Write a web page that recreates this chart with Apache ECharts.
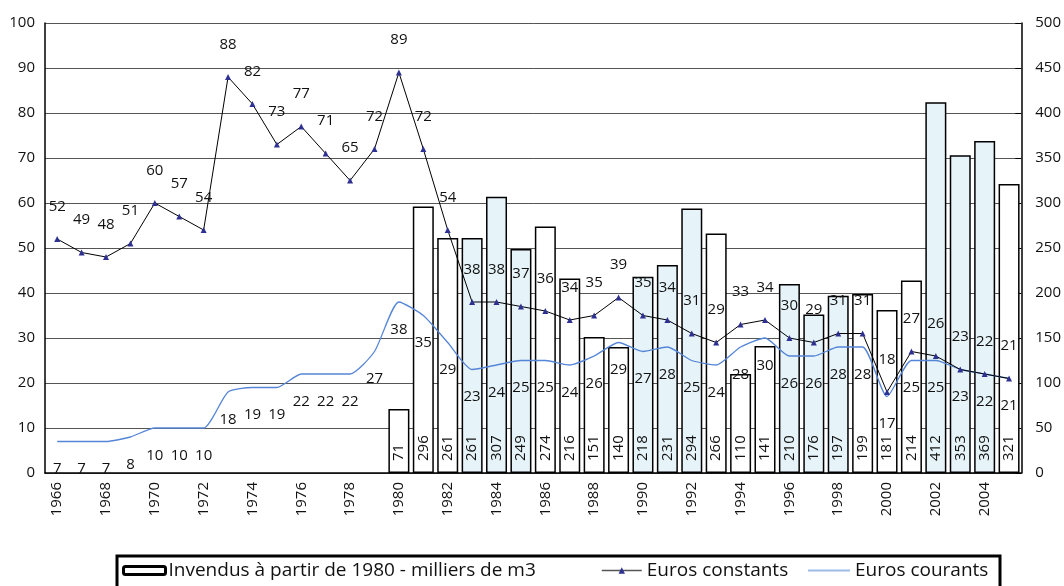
<!DOCTYPE html>
<html>
<head>
<meta charset="utf-8">
<script src="https://cdn.jsdelivr.net/npm/echarts@6/dist/echarts.min.js"></script>
<style>
  html, body { margin: 0; padding: 0; background: #fff; }
  #chart { width: 1064px; height: 586px; }
</style>
</head>
<body>
<div id="chart"></div>
<script>
// annees
var years = ['1966','1967','1968','1969','1970','1971','1972','1973','1974','1975',
  '1976','1977','1978','1979','1980','1981','1982','1983','1984','1985',
  '1986','1987','1988','1989','1990','1991','1992','1993','1994','1995',
  '1996','1997','1998','1999','2000','2001','2002','2003','2004','2005']

// invendus (milliers de m3), axe de droite
var invendus = [null,null,null,null,null,null,null,null,null,null,
  null,null,null,null,71,296,261,261,307,249,
  274,216,151,140,218,231,294,266,110,141,
  210,176,197,199,181,214,412,353,369,321]

// annees dont la barre est bleutee
var shaded = ['1983','1984','1985','1990','1991','1992','1996','1997','1998','2002','2003','2004']

var eurosConstants = [52,49,48,51,60,57,54,88,82,73,
  77,71,65,72,89,72,54,38,38,37,
  36,34,35,39,35,34,31,29,33,34,
  30,29,31,31,18,27,26,23,22,21]

var eurosCourants = [7,7,7,8,10,10,10,18,19,19,
  22,22,22,27,38,35,29,23,24,25,
  25,24,26,29,27,28,25,24,28,30,
  26,26,28,28,17,25,25,23,22,21]

var leftTicks = [0, 100, 10]
var rightTicks = [0, 500, 50]

var FONT = '"Open Sans", "Noto Sans", sans-serif'
var nomBarres = 'Invendus à partir de 1980 - milliers de m3'

var chart = echarts.init(document.getElementById('chart'))

var barData = invendus.map(function (v, i) {
  return {
    value: v,
    itemStyle: { color: shaded.indexOf(years[i]) >= 0 ? '#e6f3f8' : '#ffffff' }
  }
})

var option = {
  animation: false,
  textStyle: { fontFamily: FONT },
  grid: { left: 45, right: 41, top: 23, bottom: 113 },
  // cadre de la legende
  graphic: [{
    type: 'rect',
    shape: { x: 117, y: 556, width: 883, height: 40 },
    style: { fill: 'none', stroke: '#000', lineWidth: 3 },
    silent: true
  }],
  legend: [{
    data: [nomBarres],
    left: 122, top: 561,
    itemWidth: 42, itemHeight: 8,
    itemGap: 3, padding: 0,
    itemStyle: { color: '#fff', borderColor: '#000', borderWidth: 3 },
    textStyle: { fontSize: 19, color: '#111', fontFamily: FONT, padding: [0, 0, 0, -2] }
  }, {
    data: [{ name: 'Euros constants', itemStyle: { color: '#2e3192' } }],
    left: 601, top: 561,
    itemWidth: 40, itemHeight: 8,
    padding: 0,
    lineStyle: { color: '#555', width: 1.5 },
    textStyle: { fontSize: 19, color: '#111', fontFamily: FONT }
  }, {
    data: [{ name: 'Euros courants', icon: 'rect', itemStyle: { color: '#9dbbe6' } }],
    left: 808, top: 561,
    itemWidth: 42, itemHeight: 2,
    padding: 0,
    textStyle: { fontSize: 19, color: '#111', fontFamily: FONT }
  }],
  xAxis: {
    type: 'category',
    data: years,
    boundaryGap: true,
    axisLine: { lineStyle: { color: '#000', width: 1.5 } },
    axisTick: { interval: 0, length: 6, lineStyle: { color: '#000' } },
    axisLabel: {
      interval: 1, rotate: 90, margin: 9,
      fontSize: 15, color: '#111', fontFamily: FONT
    },
    splitLine: { show: false }
  },
  yAxis: [{
    type: 'value',
    min: leftTicks[0], max: leftTicks[1], interval: leftTicks[2],
    axisLine: { show: true, lineStyle: { color: '#000', width: 1.5 } },
    axisTick: { show: false },
    axisLabel: { margin: 10, fontSize: 15, color: '#111', fontFamily: FONT },
    splitLine: { lineStyle: { color: '#555', width: 1 } }
  }, {
    type: 'value',
    position: 'right',
    min: rightTicks[0], max: rightTicks[1], interval: rightTicks[2],
    axisLine: { show: true, lineStyle: { color: '#000', width: 1.5 } },
    axisTick: { show: true, inside: true, length: 6, lineStyle: { color: '#000' } },
    axisLabel: { margin: 14, fontSize: 15, color: '#111', fontFamily: FONT },
    splitLine: { show: false }
  }],
  series: [{
    name: nomBarres,
    type: 'bar',
    yAxisIndex: 1,
    barWidth: 21,
    data: barData,
    itemStyle: { borderColor: '#000', borderWidth: 1.5 },
    label: {
      show: true,
      position: 'insideBottom',
      distance: 12,
      rotate: 90,
      align: 'left',
      verticalAlign: 'middle',
      fontSize: 15, color: '#111', fontFamily: FONT
    },
    z: 1
  }, {
    name: 'Euros constants',
    type: 'line',
    data: eurosConstants,
    symbol: 'triangle',
    symbolSize: 6,
    itemStyle: { color: '#2e3192' },
    lineStyle: { color: '#000', width: 1 },
    label: {
      show: true, position: 'top', distance: 22,
      fontSize: 15, color: '#111', fontFamily: FONT
    },
    z: 3
  }, {
    name: 'Euros courants',
    type: 'line',
    data: eurosCourants,
    smooth: 0.2,
    symbol: 'circle',
    symbolSize: 0,
    showSymbol: true,
    itemStyle: { color: '#5585d6' },
    lineStyle: { color: '#5585d6', width: 1.3 },
    label: {
      show: true, position: 'bottom', distance: 20,
      fontSize: 15, color: '#111', fontFamily: FONT
    },
    z: 2
  }]
}

chart.setOption(option)
</script>
</body>
</html>
